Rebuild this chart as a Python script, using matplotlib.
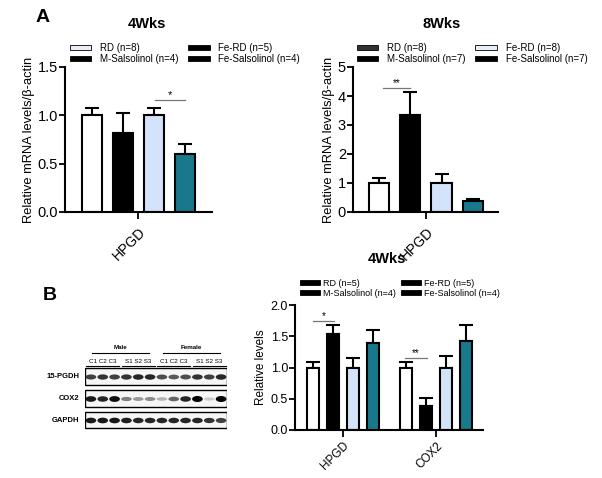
import matplotlib.pyplot as plt
import numpy as np
from matplotlib.patches import Rectangle, Ellipse

plt.rcParams['font.family'] = ['Liberation Sans', 'DejaVu Sans']

W, H = 602, 478

# ---- data ----
groups = ['RD', 'M-Salsolinol', 'Fe-RD', 'Fe-Salsolinol']
colors = ['white', 'black', '#d3e4fa', '#17798b']

a4_n = [8, 4, 5, 4]
a4_mean = [1.0, 0.82, 1.0, 0.60]
a4_err = [0.08, 0.20, 0.08, 0.10]
a4_legend = ['#e8eef8', 'black', 'black', 'black']

a8_n = [8, 7, 8, 7]
a8_mean = [1.0, 3.35, 1.0, 0.37]
a8_err = [0.17, 0.78, 0.30, 0.07]
a8_legend = ['#333333', 'black', '#e8eef8', 'black']

b_genes = ['HPGD', 'COX2']
b_n = [5, 4, 5, 4]
b_mean = [[1.0, 1.53, 1.0, 1.39], [1.0, 0.38, 1.0, 1.43]]
b_err = [[0.09, 0.15, 0.15, 0.21], [0.09, 0.13, 0.18, 0.25]]
b_legend = ['black', 'black', 'black', 'black']

# blot band intensities (12 lanes: Male C1-C3, S1-S3, Female C1-C3, S1-S3)
blot_rows = ['15-PGDH', 'COX2', 'GAPDH']
pgdh_band = [0.75, 0.8, 0.75, 0.8, 0.85, 0.85, 0.7, 0.65, 0.7, 0.8, 0.75, 0.85]
cox2_band = [0.9, 0.85, 0.95, 0.5, 0.4, 0.45, 0.3, 0.6, 0.85, 1.0, 0.2, 1.0]
gapdh_band = [0.9, 0.9, 0.9, 0.88, 0.85, 0.85, 0.85, 0.85, 0.85, 0.85, 0.8, 0.75]


def px_axes(fig, l, t, r, b):
    return fig.add_axes([l / W, 1 - b / H, (r - l) / W, (b - t) / H])


def ftext(fig, x, y, s, **kw):
    fig.text(x / W, 1 - y / H, s, **kw)


def style(ax, fs, xpad):
    for s in ['top', 'right']:
        ax.spines[s].set_visible(False)
    for s in ['left', 'bottom']:
        ax.spines[s].set_linewidth(1.5)
    ax.tick_params(axis='y', width=1.3, length=4, labelsize=fs, pad=1)
    ax.tick_params(axis='x', width=1.3, length=5, labelsize=fs - 0.5, pad=xpad)


def bars(ax, xs, means, errs, width):
    for x, m, e, c in zip(xs, means, errs, colors):
        ax.bar(x, m, width=width, color=c, edgecolor='black', linewidth=1.5, zorder=2)
        ax.errorbar(x, m, yerr=[[0], [e]], color='black', elinewidth=1.5,
                    capsize=width * 8, capthick=1.5, zorder=1)


def sig(ax, x0, x1, y, label, fs):
    ax.plot([x0, x1], [y, y], color='#777777', lw=0.9)
    ax.text((x0 + x1) / 2, y, label, ha='center', va='bottom', fontsize=fs)


def legend(fig, ax, ns, fcs, x, y, fs, spacing, tpad):
    handles = [Rectangle((0, 0), 1, 1, facecolor=c, edgecolor='black', lw=0.6) for c in fcs]
    labels = [f'{g} (n={n})' for g, n in zip(groups, ns)]
    ax.legend(handles, labels, ncol=2, loc='upper left',
              bbox_to_anchor=(x / W, 1 - y / H), bbox_transform=fig.transFigure,
              frameon=False, fontsize=fs, handlelength=2.2, handleheight=0.45,
              handletextpad=tpad, labelspacing=0.1, columnspacing=spacing,
              borderpad=0, borderaxespad=0)


fig = plt.figure(figsize=(W / 100, H / 100), dpi=100)

# ---- Panel A, 4 weeks ----
ax1 = px_axes(fig, 65, 67, 212, 212)
xs = np.arange(4)
bars(ax1, xs, a4_mean, a4_err, 0.65)
ax1.set_xlim(-0.87, 3.87)
ax1.set_ylim(0, 1.5)
ax1.set_yticks([0, 0.5, 1.0, 1.5])
ax1.set_yticklabels(['0.0', '0.5', '1.0', '1.5'])
ax1.set_xticks([1.5])
ax1.set_xticklabels(['HPGD'], rotation=45, ha='right', rotation_mode='anchor')
style(ax1, 10.5, 4)
ax1.set_ylabel('Relative mRNA levels/β-actin', fontsize=9.3, labelpad=2)
sig(ax1, 2.03, 3.0, 1.16, '*', 8)
legend(fig, ax1, a4_n, a4_legend, 70, 43, 7, 1.0, 0.9)

# ---- Panel A, 8 weeks ----
ax2 = px_axes(fig, 353, 67, 498, 212)
bars(ax2, xs, a8_mean, a8_err, 0.65)
ax2.set_xlim(-0.83, 3.8)
ax2.set_ylim(0, 5)
ax2.set_yticks([0, 1, 2, 3, 4, 5])
ax2.set_xticks([1.5])
ax2.set_xticklabels(['HPGD'], rotation=45, ha='right', rotation_mode='anchor')
style(ax2, 10.5, 4)
ax2.set_ylabel('Relative mRNA levels/β-actin', fontsize=9.3, labelpad=2)
sig(ax2, 0.13, 0.99, 4.28, '**', 7)
legend(fig, ax2, a8_n, a8_legend, 357, 43, 7, 1.0, 0.9)

# ---- Panel B, quantification ----
ax3 = px_axes(fig, 295, 305, 483, 430)
offsets = [0, 4.67]
for g, off in enumerate(offsets):
    bars(ax3, xs + off, b_mean[g], b_err[g], 0.6)
ax3.set_xlim(-0.9, 8.5)
ax3.set_ylim(0, 2.0)
ax3.set_yticks([0, 0.5, 1.0, 1.5, 2.0])
ax3.set_yticklabels(['0.0', '0.5', '1.0', '1.5', '2.0'])
ax3.set_xticks([1.5 + o for o in offsets])
ax3.set_xticklabels(b_genes, rotation=45, ha='right', rotation_mode='anchor')
style(ax3, 9, 2)
ax3.set_ylabel('Relative levels', fontsize=8.5, labelpad=3)
sig(ax3, 0.0, 1.05, 1.74, '*', 7)
sig(ax3, 4.6, 5.7, 1.15, '**', 7)
legend(fig, ax3, b_n, b_legend, 300, 279, 6.5, 0.5, 0.4)

# ---- titles / panel letters ----
ftext(fig, 147, 24, '4Wks', fontsize=10.5, fontweight='bold', ha='center', va='center')
ftext(fig, 442, 24, '8Wks', fontsize=10.5, fontweight='bold', ha='center', va='center')
ftext(fig, 387, 259, '4Wks', fontsize=10.5, fontweight='bold', ha='center', va='center')
ftext(fig, 43, 18, 'A', fontsize=14, fontweight='bold', ha='center', va='center')
ftext(fig, 50, 295, 'B', fontsize=14, fontweight='bold', ha='center', va='center')

# ---- western blot ----
axb = px_axes(fig, 85, 340, 227, 430)
axb.set_xlim(-0.5, 11.5)
axb.set_ylim(430, 340)
axb.axis('off')
row_box = [(368, 385), (390, 407), (412, 428)]
for (top, bot), name, band in zip(row_box, blot_rows, [pgdh_band, cox2_band, gapdh_band]):
    axb.add_patch(Rectangle((-0.5, top), 12, bot - top, facecolor='#f6f6f6',
                            edgecolor='black', lw=1.0))
    mid = (top + bot) / 2
    for i, v in enumerate(band):
        g = 1 - v
        axb.add_patch(Ellipse((i, mid + 0.5), 0.9, 2.5 + 3.5 * v,
                              facecolor=(g, g, g), edgecolor='none'))
    axb.text(-1.0, mid, name, ha='right', va='center', fontsize=5.5, fontweight='bold')

# lane group labels
for lo, hi, lab in [(0, 5, 'Male'), (6, 11, 'Female')]:
    axb.plot([lo + 0.1, hi - 0.1], [353, 353], color='black', lw=0.8, clip_on=False)
    axb.text((lo + hi) / 2, 350, lab, ha='center', va='bottom', fontsize=4.5, fontweight='bold')
for lo, lab in [(0, 'C1 C2 C3'), (3, 'S1 S2 S3'), (6, 'C1 C2 C3'), (9, 'S1 S2 S3')]:
    axb.plot([lo - 0.4, lo + 2.4], [366, 366], color='black', lw=0.8, clip_on=False)
    axb.text(lo + 1, 364, lab, ha='center', va='bottom', fontsize=4.5)

fig.savefig('out.png', dpi=100)
